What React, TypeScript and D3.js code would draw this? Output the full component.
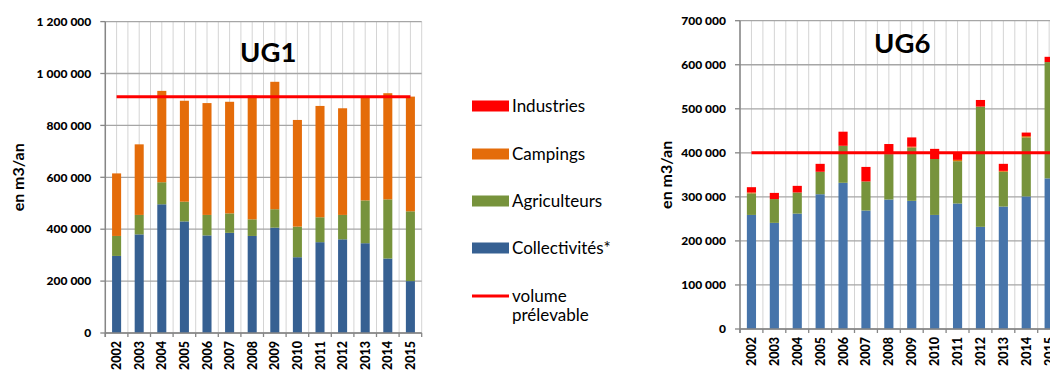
import React from "react";
import * as d3 from "d3";

const years = ["2002","2003","2004","2005","2006","2007","2008","2009","2010","2011","2012","2013","2014","2015"];

// UG1 (thousand m3/yr)
const ug1Collectivites = [297,380,496,430,376,386,374,406,292,350,361,346,287,200];
const ug1Agriculteurs  = [77,75,85,76,79,75,64,71,118,96,94,165,228,269];
const ug1Campings      = [241,272,352,389,431,430,477,491,411,429,411,396,409,442];
const ug1Industries    = [0,0,0,0,0,0,0,0,0,0,0,0,0,0];
const ug1Volume = 910;

// UG6 (thousand m3/yr)
const ug6Collectivites = [259,241,262,306,332,269,294,291,259,285,232,278,301,342];
const ug6Agriculteurs  = [49,54,48,51,84,66,103,121,127,96,273,79,134,264];
const ug6Campings      = [2,0,0,0,0,0,0,2,0,3,0,2,3,0];
const ug6Industries    = [12,14,15,18,32,33,23,21,23,18,15,16,8,12];
const ug6Volume = 400;

const ug1Ticks = [0,200000,400000,600000,800000,1000000,1200000];
const ug6Ticks = [0,100000,200000,300000,400000,500000,600000,700000];

const seriesNames = ["Collectivités*","Agriculteurs","Campings","Industries"];
const FONT = "Lato, 'Open Sans', sans-serif";
const fmt = (v: number) => d3.format(",")(v).replace(/,/g, "\u202F");

type ChartProps = {
  title: string; titleX: number; titleY: number;
  x0: number; x1: number; yTop: number; yBot: number; max: number; ticks: number[];
  series: number[][]; colors: string[]; volume: number; lineEnd?: number;
  axisTitleX: number;
};

function Chart(p: ChartProps) {
  const x = d3.scaleBand<string>().domain(years).range([p.x0, p.x1]).paddingInner(0.6).paddingOuter(0.3);
  const y = d3.scaleLinear().domain([0, p.max]).range([p.yBot, p.yTop]);
  const step = (p.x1 - p.x0) / years.length;
  const stack = d3.stack<any>().keys(seriesNames.map((_, i) => String(i)))(
    years.map((yr, j) => {
      const o: any = { yr };
      p.series.forEach((s, i) => (o[String(i)] = s[j] * 1000));
      return o;
    })
  );
  const vlines = d3.range(0, years.length * 2 + 1).map(k => p.x0 + (k * step) / 2);
  const cFirst = x(years[0])! + x.bandwidth() / 2;
  const cLast = p.lineEnd ?? x(years[years.length - 1])! + x.bandwidth() / 2;
  const midY = (p.yTop + p.yBot) / 2;
  return (
    <g>
      {vlines.map((vx, i) => (
        <line key={"v" + i} x1={vx} x2={vx} y1={p.yTop} y2={p.yBot} stroke="#d4d4d4" strokeWidth={1} />
      ))}
      {p.ticks.map(t => (
        <line key={"h" + t} x1={p.x0} x2={p.x1} y1={y(t)} y2={y(t)} stroke="#a6a6a6" strokeWidth={1.3} />
      ))}
      {stack.map((layer, i) => (
        <g key={"s" + i} fill={p.colors[i]}>
          {layer.map((d: any, j: number) => (
            d[1] - d[0] > 0 ? (
              <rect key={j} x={x(years[j])} width={x.bandwidth()} y={y(d[1])} height={y(d[0]) - y(d[1])} />
            ) : null
          ))}
        </g>
      ))}
      <line x1={cFirst} x2={cLast} y1={y(p.volume * 1000)} y2={y(p.volume * 1000)} stroke="#ff0000" strokeWidth={3} />
      <line x1={p.x0} x2={p.x0} y1={p.yTop} y2={p.yBot + 4} stroke="#868686" strokeWidth={1.5} />
      <line x1={p.x0} x2={p.x1} y1={p.yBot} y2={p.yBot} stroke="#868686" strokeWidth={1.5} />
      {p.ticks.map(t => (
        <g key={"yt" + t}>
          <line x1={p.x0 - 5} x2={p.x0} y1={y(t)} y2={y(t)} stroke="#868686" strokeWidth={1.3} />
          <text x={p.x0 - 14} y={y(t)} dy="0.35em" textAnchor="end" fontFamily={FONT} fontWeight="900" fontSize={12} fill="#000">
            {fmt(t)}
          </text>
        </g>
      ))}
      {d3.range(0, years.length + 1).map(k => (
        <line key={"xt" + k} x1={p.x0 + k * step} x2={p.x0 + k * step} y1={p.yBot} y2={p.yBot + 4} stroke="#868686" strokeWidth={1.3} />
      ))}
      {years.map(yr => {
        const cx = x(yr)! + x.bandwidth() / 2;
        return (
          <text key={"xl" + yr} transform={`translate(${cx + 4.5},${p.yBot + 8}) rotate(-90)`} textAnchor="end"
            fontFamily={FONT} fontWeight="900" fontSize={12.5} fill="#000">{yr}</text>
        );
      })}
      <text transform={`translate(${p.axisTitleX},${midY}) rotate(-90)`} textAnchor="middle"
        fontFamily={FONT} fontWeight="bold" fontSize={16} fill="#000">en m3/an</text>
      <text x={p.titleX} y={p.titleY} fontFamily={FONT} fontWeight="bold" fontSize={27.5} fill="#000">{p.title}</text>
    </g>
  );
}

const legendItems = [
  { name: "Industries", color: "#ff0000", y: 106 },
  { name: "Campings", color: "#e46c0a", y: 154 },
  { name: "Agriculteurs", color: "#77933c", y: 201 },
  { name: "Collectivités*", color: "#366092", y: 248 },
];

export default function App() {
  return (
    <div style={{ position: "absolute", left: 0, top: 0 }}>
      <svg width={1050} height={371} style={{ display: "block", background: "#fff" }}>
        <Chart title="UG1" titleX={240} titleY={62} x0={105.3} x1={421.7} yTop={21.6} yBot={333}
          max={1200000} ticks={ug1Ticks}
          series={[ug1Collectivites, ug1Agriculteurs, ug1Campings, ug1Industries]}
          colors={["#366092", "#77933c", "#e46c0a", "#ff0000"]} volume={ug1Volume} axisTitleX={24} />
        <Chart title="UG6" titleX={874} titleY={53} x0={740} x1={1060.6} yTop={20.7} yBot={329}
          max={700000} ticks={ug6Ticks}
          series={[ug6Collectivites, ug6Agriculteurs, ug6Campings, ug6Industries]}
          colors={["#4674aa", "#77933c", "#e46c0a", "#ff0000"]} volume={ug6Volume} lineEnd={1050} axisTitleX={672} />
        {legendItems.map(it => (
          <g key={it.name}>
            <rect x={472} y={it.y - 5.5} width={37} height={11} fill={it.color} />
            <text x={512} y={it.y + 6} fontFamily={FONT} fontSize={17} fill="#000">{it.name}</text>
          </g>
        ))}
        <line x1={472} x2={509} y1={296} y2={296} stroke="#ff0000" strokeWidth={3} />
        <text x={512} y={302} fontFamily={FONT} fontSize={17} fill="#000">volume</text>
        <text x={512} y={321} fontFamily={FONT} fontSize={17} fill="#000">prélevable</text>
      </svg>
    </div>
  );
}
